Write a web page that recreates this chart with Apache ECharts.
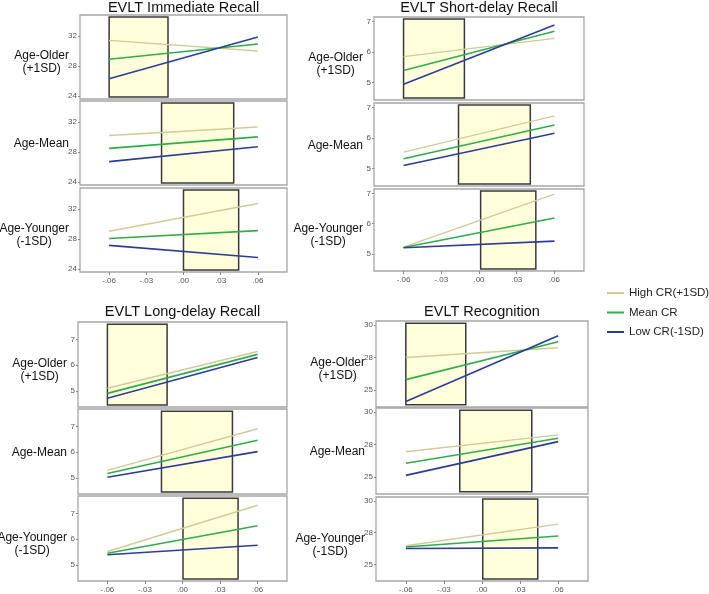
<!DOCTYPE html>
<html>
<head>
<meta charset="utf-8">
<script src="https://cdn.jsdelivr.net/npm/echarts@6/dist/echarts.min.js"></script>
<style>
html,body{margin:0;padding:0;background:#fff;}
#chart{width:709px;height:594px;}
</style>
</head>
<body>
<div id="chart"></div>
<script>
// ---------- data ----------
const xTickValues = [-0.06, -0.03, 0, 0.03, 0.06];
const xTickLabels = ['-.06', '-.03', '.00', '.03', '.06'];
const xEnds = [-0.06, 0.06];
const panelTitles = ['EVLT Immediate Recall', 'EVLT Short-delay Recall', 'EVLT Long-delay Recall', 'EVLT Recognition'];
const rowLabels = [['Age-Older', '(+1SD)'], ['Age-Mean'], ['Age-Younger', '(-1SD)']];
const seriesNames = ['High CR(+1SD)', 'Mean CR', 'Low CR(-1SD)'];

// rows: Older, Mean, Younger ; each [value at -.06, value at .06]
const immediateHigh = [[31.42, 30.0], [30.2, 31.34], [29.03, 32.74]];
const immediateMean = [[28.89, 30.93], [28.48, 30.02], [28.07, 29.12]];
const immediateLow  = [[26.31, 31.87], [26.72, 28.7], [27.15, 25.54]];
const shortHigh = [[5.85, 6.45], [5.54, 6.73], [5.22, 6.98]];
const shortMean = [[5.4, 6.68], [5.32, 6.43], [5.21, 6.19]];
const shortLow  = [[4.95, 6.89], [5.1, 6.16], [5.2, 5.42]];
const longHigh = [[5.1, 6.53], [5.29, 6.91], [5.52, 7.32]];
const longMean = [[4.9, 6.42], [5.17, 6.46], [5.45, 6.52]];
const longLow  = [[4.71, 6.3], [5.02, 6.02], [5.39, 5.76]];
const recogHigh = [[27.5, 28.25], [26.94, 28.24], [26.47, 28.17]];
const recogMean = [[25.8, 28.71], [26.06, 27.98], [26.37, 27.24]];
const recogLow  = [[24.12, 29.17], [25.13, 27.72], [26.25, 26.3]];

// regions of significance (yellow boxes), per row [from, to]
const immediateRegions = [[-0.06, -0.0125], [-0.0177, 0.0405], [0.0, 0.0445]];
const shortRegions     = [[-0.06, -0.0116], [-0.0163, 0.0408], [0.0013, 0.0452]];
const longRegions      = [[-0.06, -0.0123], [-0.0168, 0.0399], [0.0004, 0.0444]];
const recogRegions     = [[-0.06, -0.0128], [-0.0175, 0.0392], [0.0006, 0.0439]];

// y tick values and y ranges
const immediateYTicks = [24, 28, 32];
const shortYTicks = [5, 6, 7];
const longYTicks = [5, 6, 7];
const recogYTicks = [25, 27.5, 30];
const immediateYRange = [23.6, 34.8];
const shortYRange = [4.43, 7.15];
const longYRange = [4.37, 7.68];
const recogYRange = [23.7, 30.3];
const xRange = [-0.0835, 0.0835];

// ---------- assembly ----------
const panels = [
  {high: immediateHigh, mean: immediateMean, low: immediateLow, regions: immediateRegions, yTicks: immediateYTicks, yRange: immediateYRange},
  {high: shortHigh, mean: shortMean, low: shortLow, regions: shortRegions, yTicks: shortYTicks, yRange: shortYRange},
  {high: longHigh, mean: longMean, low: longLow, regions: longRegions, yTicks: longYTicks, yRange: longYRange},
  {high: recogHigh, mean: recogMean, low: recogLow, regions: recogRegions, yTicks: recogYTicks, yRange: recogYRange}
];

const layout = [
  {left: 80, width: 207, tops: [15, 101, 188], heights: [84, 84, 84], titleY: 8},
  {left: 374, width: 210, tops: [17, 103, 189], heights: [83, 83, 82], titleY: 8},
  {left: 78, width: 209, tops: [322, 409, 496], heights: [85, 85, 86], titleY: 312},
  {left: 376, width: 212, tops: [321, 408, 497], heights: [86, 86, 86], titleY: 312}
];

const colors = ['#d3ca98', '#2fae47', '#2a3d98'];
const FONT = '"Liberation Sans", Arial, sans-serif';

const measure = document.createElement('canvas').getContext('2d');
measure.font = '12px "Liberation Sans"';

const grids = [], xAxes = [], yAxes = [], series = [], graphics = [];

panels.forEach((p, pi) => {
  const L = layout[pi];
  graphics.push({
    type: 'text', x: L.left + L.width / 2, y: L.titleY,
    style: {text: panelTitles[pi], font: '14.5px ' + FONT, fill: '#111', textAlign: 'center', textVerticalAlign: 'middle'}
  });
  for (let r = 0; r < 3; r++) {
    const idx = pi * 3 + r;
    const isBottom = r === 2;
    grids.push({
      left: L.left, top: L.tops[r], width: L.width, height: L.heights[r],
      show: true, borderColor: '#a6a6a6', borderWidth: 1.3, backgroundColor: '#fff', containLabel: false
    });
    xAxes.push({
      type: 'value', gridIndex: idx, min: xRange[0], max: xRange[1], position: 'bottom',
      axisLine: {show: false, onZero: false}, splitLine: {show: false},
      axisTick: {show: isBottom, customValues: xTickValues, length: 3, lineStyle: {color: '#888'}},
      axisLabel: {show: isBottom, customValues: xTickValues, fontSize: 8, color: '#555', fontFamily: FONT, margin: 5,
        formatter: (v) => { const k = xTickValues.findIndex(t => Math.abs(t - v) < 1e-9); return k >= 0 ? xTickLabels[k] : ''; }}
    });
    yAxes.push({
      type: 'value', gridIndex: idx, min: p.yRange[0], max: p.yRange[1], position: 'left',
      axisLine: {show: false, onZero: false}, splitLine: {show: false},
      axisTick: {show: true, customValues: p.yTicks, length: 2, lineStyle: {color: '#888'}},
      axisLabel: {show: true, customValues: p.yTicks, fontSize: 8, color: '#555', fontFamily: FONT, margin: 3,
        formatter: (v) => String(Math.round(v))}
    });
    const pad = (p.yRange[1] - p.yRange[0]) * 0.025;
    const reg = p.regions[r];
    series.push({
      type: 'line', xAxisIndex: idx, yAxisIndex: idx, data: [], z: 1, silent: true,
      markArea: {
        silent: true,
        itemStyle: {color: '#ffffdc', borderColor: '#3a3a3a', borderWidth: 1.5},
        data: [[{xAxis: reg[0], yAxis: p.yRange[0] + pad}, {xAxis: reg[1], yAxis: p.yRange[1] - pad}]]
      }
    });
    [p.high, p.mean, p.low].forEach((arr, si) => {
      series.push({
        name: seriesNames[si], type: 'line', xAxisIndex: idx, yAxisIndex: idx, z: 3,
        color: colors[si], symbol: 'none', showSymbol: false, silent: true, animation: false,
        lineStyle: {color: colors[si], width: si === 0 ? 1.4 : 1.6},
        data: xEnds.map((x, k) => [x, arr[r][k]])
      });
    });
    // row label
    const lines = rowLabels[r];
    const w = measure.measureText(lines[0]).width;
    const cx = L.left - 11 - w / 2;
    const cy = L.tops[r] + L.heights[r] / 2;
    if (lines.length === 2) {
      graphics.push({type: 'text', x: cx, y: cy - 1, style: {text: lines[0], font: '12px ' + FONT, fill: '#111', textAlign: 'center', textVerticalAlign: 'middle'}});
      graphics.push({type: 'text', x: cx, y: cy + 12, style: {text: lines[1], font: '12px ' + FONT, fill: '#111', textAlign: 'center', textVerticalAlign: 'middle'}});
    } else {
      graphics.push({type: 'text', x: cx, y: cy + 1, style: {text: lines[0], font: '12px ' + FONT, fill: '#111', textAlign: 'center', textVerticalAlign: 'middle'}});
    }
  }
});

const chart = echarts.init(document.getElementById('chart'), null, {renderer: 'canvas'});
chart.setOption({
  animation: false,
  backgroundColor: '#fff',
  grid: grids,
  xAxis: xAxes,
  yAxis: yAxes,
  legend: {
    data: seriesNames, orient: 'vertical', left: 607, top: 287, padding: 0,
    icon: 'rect', itemWidth: 17, itemHeight: 2, itemGap: 7.5,
    textStyle: {fontSize: 11.5, color: '#222', fontFamily: FONT},
    selectedMode: false
  },
  graphic: graphics,
  series: series
});
</script>
</body>
</html>
